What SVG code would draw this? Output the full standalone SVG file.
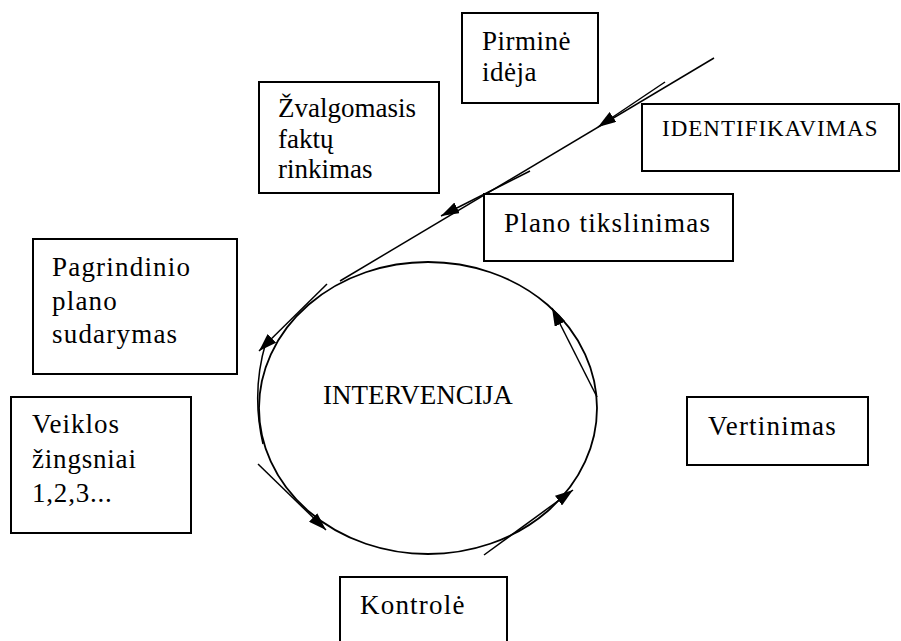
<svg xmlns="http://www.w3.org/2000/svg" width="901" height="641" viewBox="0 0 901 641">
<defs>
<style>
.box{fill:#fff;stroke:#000;stroke-width:2}
.ln{fill:none;stroke:#000;stroke-width:1.5}
text{font-family:"Liberation Serif","Times New Roman",serif;font-size:27px;fill:#000}
.w{letter-spacing:1.2px}
</style>
<marker id="ah" viewBox="0 0 18 12" refX="18" refY="6" markerWidth="18" markerHeight="12" markerUnits="userSpaceOnUse" orient="auto">
<path d="M0,0 L18,6 L0,12 z" fill="#000"/>
</marker>
</defs>
<rect width="901" height="641" fill="#fff"/>
<g id="ellipse-intervencija">
<ellipse cx="428" cy="408" rx="169" ry="146" fill="none" stroke="#000" stroke-width="1.8"/>
<text x="323" y="404">INTERVENCIJA</text>
</g>
<g id="connectors">
<path class="ln" d="M714,58 L340,281"/>
<path class="ln" d="M665,82 L598,127" marker-end="url(#ah)"/>
<path class="ln" d="M530,171 L441,216" marker-end="url(#ah)"/>
<path class="ln" d="M327,284 L259,351" marker-end="url(#ah)"/>
<path class="ln" d="M266,342 Q251,392 263,444" stroke-width="2.5"/>
<path class="ln" d="M258,464 L326,530" marker-end="url(#ah)"/>
<path class="ln" d="M484,555 L573,490" marker-end="url(#ah)"/>
<path class="ln" d="M597,397 L552,308" marker-end="url(#ah)"/>
</g>
<g id="node-pirmine">
<rect class="box" x="462" y="13" width="136" height="90"/>
<text x="482" y="50" letter-spacing="0.5">Pirminė</text>
<text x="482" y="81" letter-spacing="0.5">idėja</text>
</g>
<g id="node-zvalgomasis">
<rect class="box" x="259" y="82" width="180" height="111"/>
<text x="278" y="117">Žvalgomasis</text>
<text x="278" y="148">faktų</text>
<text x="278" y="178">rinkimas</text>
</g>
<g id="node-identifikavimas">
<rect class="box" x="642" y="104" width="257" height="67"/>
<text x="662" y="136" style="font-size:23px" letter-spacing="1">IDENTIFIKAVIMAS</text>
</g>
<g id="node-plano-tikslinimas">
<rect class="box" x="484" y="194" width="249" height="67"/>
<text class="w" x="504" y="232">Plano tikslinimas</text>
</g>
<g id="node-pagrindinio">
<rect class="box" x="33" y="239" width="204" height="135"/>
<text class="w" x="52" y="276">Pagrindinio</text>
<text class="w" x="52" y="310">plano</text>
<text class="w" x="52" y="343">sudarymas</text>
</g>
<g id="node-veiklos">
<rect class="box" x="11" y="397" width="180" height="136"/>
<text x="32" y="433" letter-spacing="1">Veiklos</text>
<text x="32" y="468" letter-spacing="0.8">žingsniai</text>
<text x="32" y="502" letter-spacing="0.8">1,2,3...</text>
</g>
<g id="node-vertinimas">
<rect class="box" x="687" y="397" width="181" height="68"/>
<text class="w" x="708" y="435">Vertinimas</text>
</g>
<g id="node-kontrole">
<rect class="box" x="340" y="577" width="167" height="70"/>
<text class="w" x="360" y="614">Kontrolė</text>
</g>
</svg>
